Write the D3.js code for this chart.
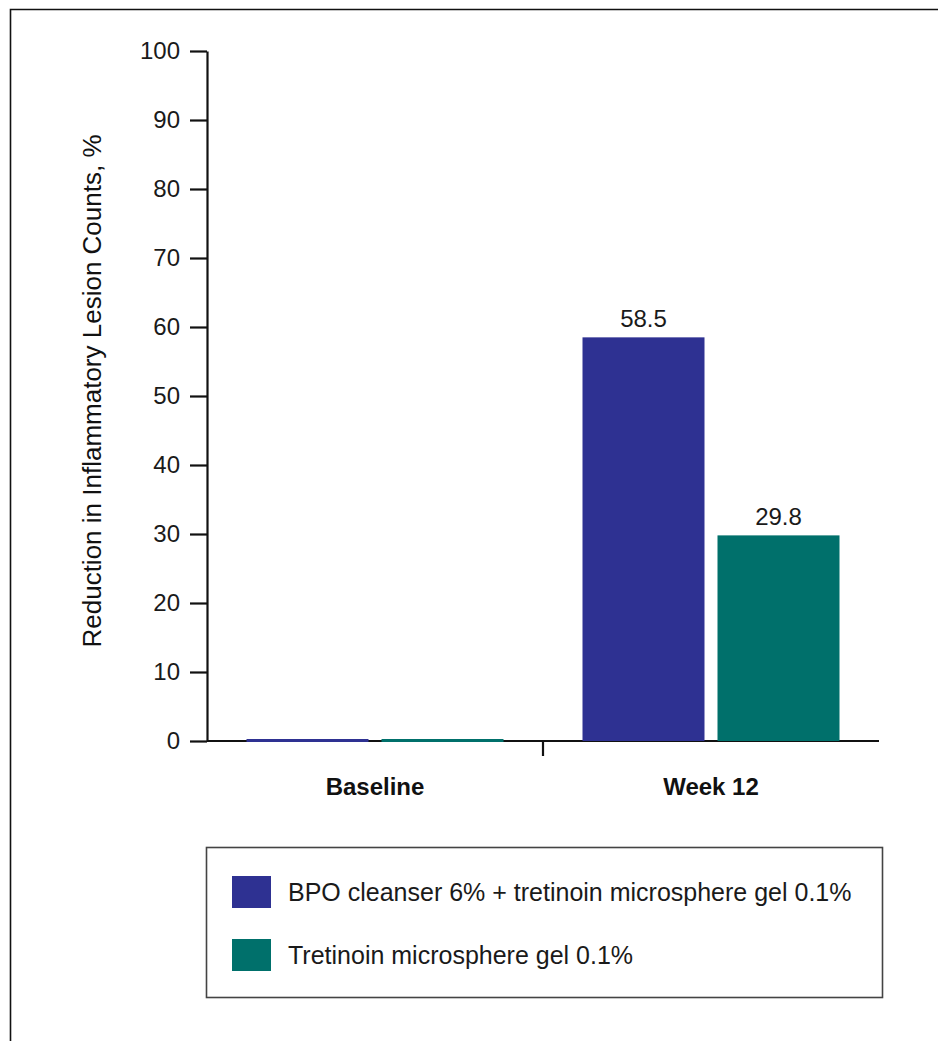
<!DOCTYPE html>
<html>
<head>
<meta charset="utf-8">
<script src="https://cdn.jsdelivr.net/npm/d3@7"></script>
<style>
  html, body { margin: 0; padding: 0; background: #fff; }
  svg { display: block; }
  text { font-family: "Liberation Sans", Arial, Helvetica, sans-serif; }
</style>
</head>
<body>
<svg id="chart" width="938" height="1041"></svg>
<script>
// Timepoints on the x axis
const categories = ["Baseline", "Week 12"];
// Treatment arms
const seriesNames = [
  "BPO cleanser 6% + tretinoin microsphere gel 0.1%",
  "Tretinoin microsphere gel 0.1%"
];
const seriesColors = ["#2e3192", "#00706b"];
// Reduction in inflammatory lesion counts (%), one value per timepoint
const bpoValues = [0, 58.5];
const tretValues = [0, 29.8];
// Value labels shown above bars (null = no label)
const bpoLabels = [null, "58.5"];
const tretLabels = [null, "29.8"];
const yTicks = [0, 10, 20, 30, 40, 50, 60, 70, 80, 90, 100];

const svg = d3.select("#chart");

// Outer frame (open on the right and bottom)
svg.append("path")
  .attr("d", "M10.5,1041 V9.5 H938")
  .attr("fill", "none")
  .attr("stroke", "#111")
  .attr("stroke-width", 1.6);

const plot = { left: 207, right: 879, top: 51, bottom: 741 };

const y = d3.scaleLinear().domain([0, 100]).range([plot.bottom, plot.top]);
const x0 = d3.scaleBand().domain(categories).range([plot.left, plot.right]).padding(0);
const groupWidth = 257;
const x1 = d3.scaleBand().domain(seriesNames).range([0, groupWidth]).paddingInner(0.0963);

const rows = categories.map((c, i) => ({
  cat: c,
  values: [
    { name: seriesNames[0], v: bpoValues[i], label: bpoLabels[i], color: seriesColors[0] },
    { name: seriesNames[1], v: tretValues[i], label: tretLabels[i], color: seriesColors[1] }
  ]
}));

// X axis baseline with a divider tick between categories
svg.append("line")
  .attr("x1", plot.left).attr("x2", plot.right)
  .attr("y1", plot.bottom).attr("y2", plot.bottom)
  .attr("stroke", "#111").attr("stroke-width", 2.2);
svg.append("line")
  .attr("x1", x0("Week 12")).attr("x2", x0("Week 12"))
  .attr("y1", plot.bottom).attr("y2", plot.bottom + 15)
  .attr("stroke", "#111").attr("stroke-width", 2.2);

// Bars (zero values still drawn as a thin coloured strip on the axis)
const groups = svg.append("g").selectAll("g")
  .data(rows).join("g")
  .attr("transform", d => `translate(${x0(d.cat) + x0.bandwidth() / 2 - groupWidth / 2},0)`);

groups.selectAll("rect")
  .data(d => d.values).join("rect")
  .attr("x", d => x1(d.name))
  .attr("width", x1.bandwidth())
  .attr("y", d => Math.min(y(d.v), plot.bottom - 2))
  .attr("height", d => Math.max(plot.bottom - y(d.v), 3))
  .attr("fill", d => d.color);

groups.selectAll("text.val")
  .data(d => d.values.filter(v => v.label !== null)).join("text")
  .attr("class", "val")
  .attr("x", d => x1(d.name) + x1.bandwidth() / 2)
  .attr("y", d => y(d.v) - 10)
  .attr("text-anchor", "middle")
  .attr("font-size", 24)
  .attr("fill", "#1a1a1a")
  .text(d => d.label);

// Y axis
const yAxis = svg.append("g")
  .attr("transform", `translate(${plot.left},0)`)
  .call(d3.axisLeft(y).tickValues(yTicks).tickSize(17).tickSizeOuter(0).tickPadding(10));
yAxis.select(".domain").attr("stroke", "#111").attr("stroke-width", 2.2);
yAxis.selectAll(".tick line").attr("stroke", "#111").attr("stroke-width", 2.2);
yAxis.selectAll(".tick text")
  .attr("font-size", 24)
  .attr("fill", "#1a1a1a")
  .attr("font-family", "'Liberation Sans', Arial, sans-serif");

svg.append("g").selectAll("text")
  .data(categories).join("text")
  .attr("x", d => x0(d) + x0.bandwidth() / 2)
  .attr("y", 795)
  .attr("text-anchor", "middle")
  .attr("font-size", 24)
  .attr("font-weight", "bold")
  .attr("fill", "#111")
  .text(d => d);

// Y axis title
svg.append("text")
  .attr("transform", `translate(101,${(plot.top + plot.bottom) / 2 - 5}) rotate(-90)`)
  .attr("text-anchor", "middle")
  .attr("font-size", 26)
  .attr("fill", "#111")
  .text("Reduction in Inflammatory Lesion Counts, %");

// Legend
const legend = svg.append("g");
legend.append("rect")
  .attr("x", 206.5).attr("y", 847.5)
  .attr("width", 676).attr("height", 150)
  .attr("fill", "none")
  .attr("stroke", "#444")
  .attr("stroke-width", 1.6);

const items = legend.selectAll("g.item")
  .data(seriesNames).join("g")
  .attr("class", "item")
  .attr("transform", (d, i) => `translate(232,${876 + i * 63})`);
items.append("rect")
  .attr("width", 39).attr("height", 32)
  .attr("fill", (d, i) => seriesColors[i]);
items.append("text")
  .attr("x", 56).attr("y", 25)
  .attr("font-size", 25)
  .attr("fill", "#1a1a1a")
  .text(d => d);
</script>
</body>
</html>
